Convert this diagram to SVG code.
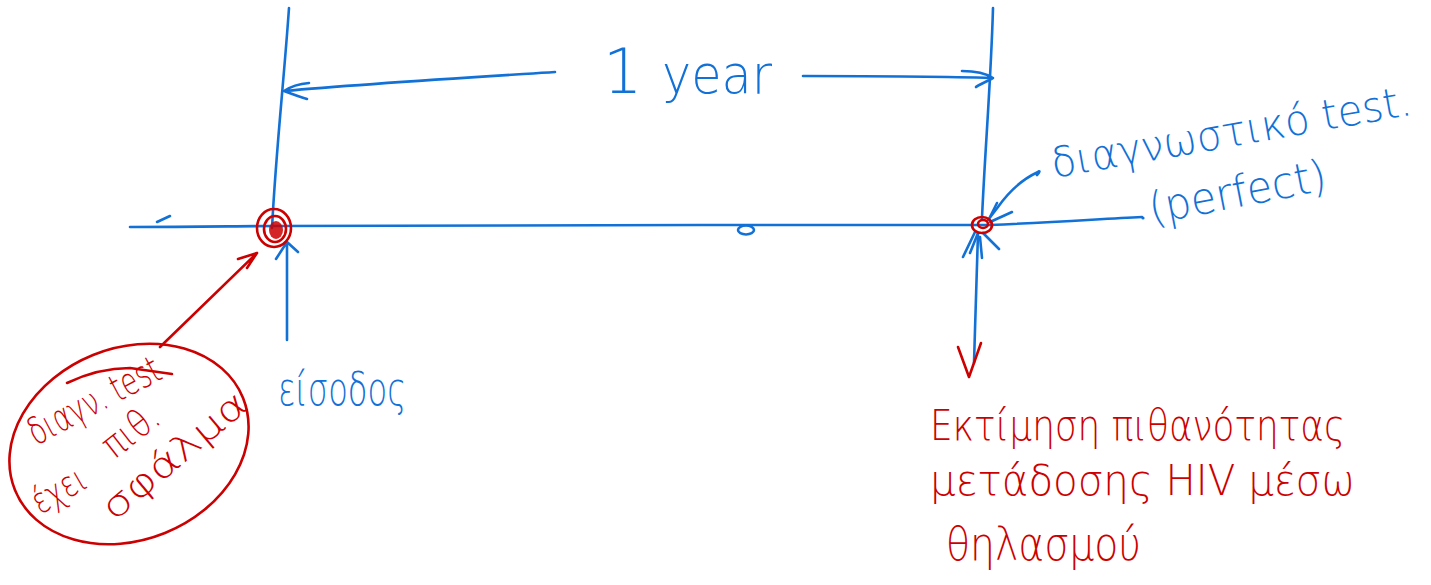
<svg xmlns="http://www.w3.org/2000/svg" width="1431" height="585" viewBox="0 0 1431 585">
<style>
.b{stroke:#1271d6;fill:none;stroke-width:2.6;stroke-linecap:round;stroke-linejoin:round}
.r{stroke:#cc0000;fill:none;stroke-width:2.6;stroke-linecap:round;stroke-linejoin:round}
.tb{fill:#1271d6;font-family:"DejaVu Sans","Noto Sans",sans-serif;font-weight:300}
.tr{fill:#cc0000;font-family:"DejaVu Sans","Noto Sans",sans-serif;font-weight:300}
</style>
<rect width="1431" height="585" fill="#fff"/>
<g id="connectors">
  <!-- timeline -->
  <path class="b" d="M130,227 C200,227 240,226 272,226 L700,225 L990,225 C1060,222 1100,219 1142,217"/>
  <path class="b" d="M157,222 L170,216"/>
  <!-- left vertical -->
  <path class="b" d="M289,8 C284,80 276,150 272,228"/>
  <!-- right vertical -->
  <path class="b" d="M993,8 C991,80 985,150 982,218 M978,233 L975,330 L974,363"/>
  <!-- 1 year arrows -->
  <path class="b" d="M555,72 C460,78 360,84 284,91 M309,83 C298,84 290,87 284,91 C292,94 300,97 307,99"/>
  <path class="b" d="M803,76 C870,76 930,76 993,78 M962,71 C975,71 987,74 993,78 C986,82 978,85 976,87"/>
  <!-- entry arrow up -->
  <path class="b" d="M287,340 L287,243 M276,259 L287,242 L298,252"/>
  <!-- right point arrows -->
  <path class="b" d="M1037,175 C1040,172 1040,170 1038,172 C1025,178 1010,190 998,207 L988,220"/>
  <path class="b" d="M1012,212 L990,222 M997,203 L990,217"/>
  <path class="b" d="M975,232 L963,257 M978,233 L970,253 M980,237 L982,258 M983,233 L999,249"/>
  <!-- red arrow to entry -->
  <path class="r" d="M160,347 L257,253 M238,259 L257,253 L247,268"/>
  <!-- red V under right vertical -->
  <path class="r" d="M958,347 L969,377 L981,343"/>
</g>
<g id="entry-point">
  <ellipse class="r" cx="274" cy="228" rx="17" ry="19"/>
  <ellipse class="r" cx="275" cy="229" rx="11" ry="13"/>
  <ellipse cx="276" cy="230" rx="7" ry="9" fill="#cc0000" opacity="0.85"/>
</g>
<g id="mid-point">
  <ellipse class="b" cx="746" cy="230" rx="8" ry="4.5"/>
</g>
<g id="end-point">
  <ellipse class="r" cx="982" cy="225" rx="10" ry="8"/>
  <ellipse class="r" cx="983" cy="224" rx="5" ry="4"/>
</g>
<g id="duration-label">
  <text class="tb" x="603" y="93" font-size="62">1</text>
  <text class="tb" x="662" y="93" font-size="54" textLength="110" lengthAdjust="spacingAndGlyphs">year</text>
</g>
<g id="entry-label">
  <text class="tb" x="278" y="405" font-size="46" textLength="128" lengthAdjust="spacingAndGlyphs">είσοδος</text>
</g>
<g id="test-label">
  <text class="tb" transform="translate(1054,178) rotate(-10)" font-size="42" textLength="365" lengthAdjust="spacingAndGlyphs">διαγνωστικό test.</text>
  <circle cx="1143" cy="218" r="1.6" fill="#1271d6"/>
  <text class="tb" transform="translate(1152,224) rotate(-11)" font-size="44" textLength="180" lengthAdjust="spacingAndGlyphs">(perfect)</text>
</g>
<g id="error-note">
  <ellipse class="r" cx="129" cy="444" rx="123" ry="96" transform="rotate(-22 129 444)"/>
  <text class="tr" transform="translate(36,446) rotate(-28)" font-size="38" textLength="145" lengthAdjust="spacingAndGlyphs">διαγν. test</text>
  <path class="r" d="M67,383 C90,372 110,368 130,368 L172,374"/>
  <text class="tr" transform="translate(40,515) rotate(-30)" font-size="36" textLength="58" lengthAdjust="spacingAndGlyphs">έχει</text>
  <text class="tr" transform="translate(114,460) rotate(-38)" font-size="38" textLength="62" lengthAdjust="spacingAndGlyphs">πιθ.</text>
  <text class="tr" transform="translate(114,522) rotate(-40)" font-size="36" textLength="178" lengthAdjust="spacingAndGlyphs">σφάλμα</text>
</g>
<g id="result-label">
  <text class="tr" x="930" y="440" font-size="42" textLength="415" lengthAdjust="spacingAndGlyphs">Εκτίμηση πιθανότητας</text>
  <text class="tr" x="930" y="495" font-size="42" textLength="425" lengthAdjust="spacingAndGlyphs">μετάδοσης HIV μέσω</text>
  <text class="tr" x="946" y="560" font-size="46" textLength="195" lengthAdjust="spacingAndGlyphs">θηλασμού</text>
</g>
</svg>
